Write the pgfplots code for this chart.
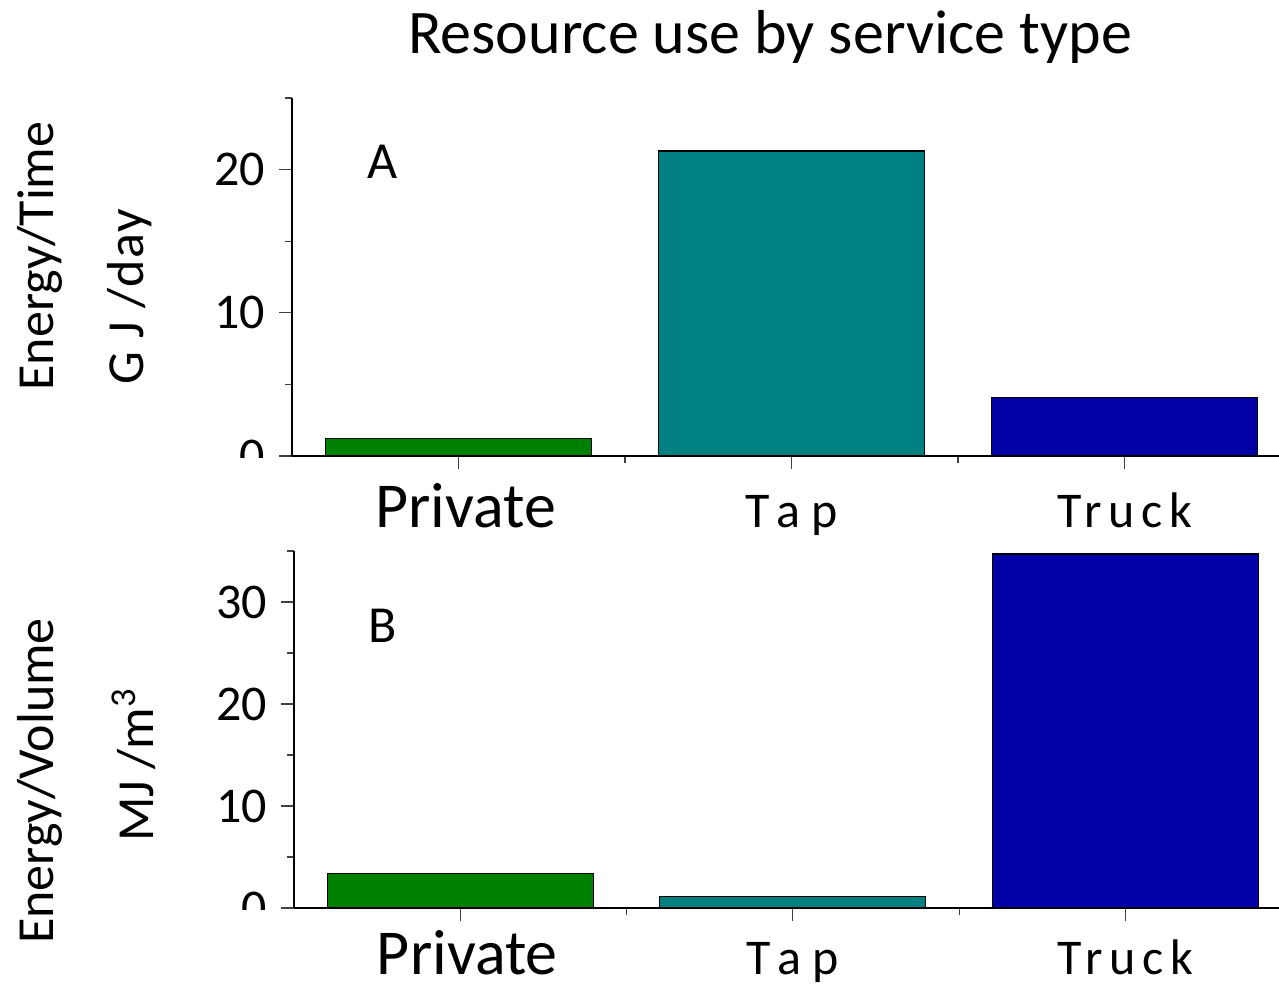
\documentclass[border=0pt]{standalone}
\usepackage{fontspec}
\setmainfont{Carlito}
\usepackage{pgfplots}
\pgfplotsset{compat=1.18}
\definecolor{cgreen}{RGB}{0,128,0}
\definecolor{cteal}{RGB}{0,128,128}
\definecolor{cblue}{RGB}{0,0,165}
\newcommand\fs[1]{\fontsize{#1}{#1}\selectfont}
\begin{document}
\begin{tikzpicture}
\useasboundingbox (0,0) rectangle (639.5pt,-492.5pt);
\pgfplotsset{
  panel/.style={
    scale only axis,
    axis lines=left,
    axis line style={-, line width=0.6pt},
    ymin=0,
    xtick={0,1,2}, minor xtick={0.5,1.5},
    xticklabels={{\fs{32}\hspace{7pt}Private},{\fs{25}\addfontfeature{LetterSpace=22}Tap},{\fs{25}\addfontfeature{LetterSpace=13}Truck}},
    tick align=outside,
    major tick length=6.5pt, minor tick length=3.5pt,
    tick style={line width=0.6pt, color=black!75},
    every tick label/.append style={font=\fs{25}},
    yticklabel style={xshift=-3.5pt},
    /pgf/number format/assume math mode=true,
    ybar, bar width=0.8,
    clip=false,
  }
}
% Panel A
\begin{axis}[panel,
  at={(146pt,-228pt)}, anchor=south west,
  width=493.5pt, height=179pt,
  xmin=-0.5, xmax=2.464,
  xticklabel style={anchor=base, inner sep=0pt, yshift=-29pt},
  ymax=25, ytick={0,10,20}, minor ytick={5,15,25}]
\addplot[fill=cgreen, draw=black, line width=0.6pt, bar shift=0pt] coordinates {(0,1.2)};
\addplot[fill=cteal, draw=black, line width=0.6pt, bar shift=0pt] coordinates {(1,21.3)};
\addplot[fill=cblue, draw=black, line width=0.6pt, bar shift=0pt] coordinates {(2,4.1)};
\end{axis}
% Panel B
\begin{axis}[panel,
  at={(147pt,-454pt)}, anchor=south west,
  width=492.5pt, height=178.5pt,
  xmin=-0.5, xmax=2.462,
  xticklabel style={anchor=base, inner sep=0pt, yshift=-26.5pt},
  ymax=35, ytick={0,10,20,30}, minor ytick={5,15,25,35}]
\addplot[fill=cgreen, draw=black, line width=0.6pt, bar shift=0pt] coordinates {(0,3.4)};
\addplot[fill=cteal, draw=black, line width=0.6pt, bar shift=0pt] coordinates {(1,1.1)};
\addplot[fill=cblue, draw=black, line width=0.6pt, bar shift=0pt] coordinates {(2,34.7)};
\end{axis}
% hide lower half of the zero labels, as in the reference
\fill[white] (95pt,-228.8pt) rectangle (144pt,-240pt);
\fill[white] (95pt,-454.8pt) rectangle (145pt,-466pt);
% texts
\node[font=\fs{31}] at (385pt,-18.5pt) {Resource use by service type};
\node[font=\fs{26}] at (191.5pt,-81pt) {A};
\node[font=\fs{26}] at (191.5pt,-313pt) {B};
\node[font=\fs{26}, rotate=90] at (20pt,-128pt) {Energy/Time};
\node[font=\fs{26}, rotate=90] at (65pt,-148.5pt) {\addfontfeature{LetterSpace=3}G J /day};
\node[font=\fs{26}, rotate=90] at (20pt,-390.5pt) {Energy/Volume};
\node[font=\fs{26}, rotate=90] at (67pt,-382.5pt) {MJ /m\textsuperscript{3}};
\end{tikzpicture}
\end{document}
